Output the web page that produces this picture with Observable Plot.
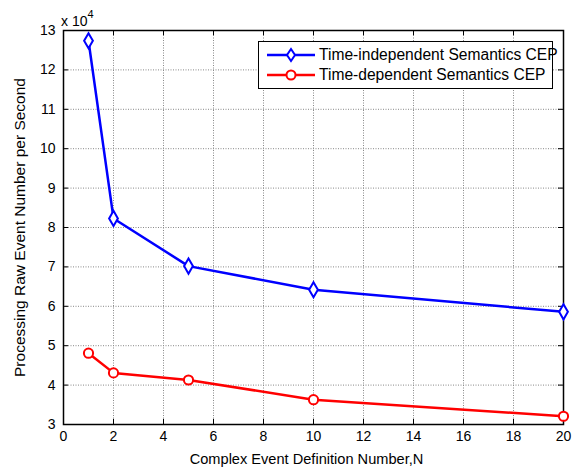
<!DOCTYPE html>
<html><head><meta charset="utf-8">
<script src="https://cdn.jsdelivr.net/npm/d3@7"></script>
<script src="https://cdn.jsdelivr.net/npm/@observablehq/plot@0.6"></script>
<style>
body{margin:0;background:#fff;font-family:"Liberation Sans",Arial,sans-serif}
#wrap{position:relative;width:576px;height:468px}
#wrap > svg{position:absolute;left:0;top:0}
g[aria-label="y-axis label"] text{font-size:15.5px}
g[aria-label="x-axis label"] text{font-size:14.6px}
.ov{position:absolute;font-size:14px;color:#000;white-space:nowrap}
#legend{left:258px;top:41px;width:293px;height:46px;border:1px solid #000;background:#fff}
.row{position:absolute;left:0;height:20px;width:100%}
.row svg{position:absolute;left:6px;top:0}
.row span{position:absolute;left:60px;top:1px;font-size:15.6px}
</style></head><body><div id="wrap"></div>
<script>
const nValues = [1, 2, 5, 10, 20];
const independentRate = [12.74, 8.23, 7.02, 6.42, 5.86];
const dependentRate = [4.81, 4.31, 4.13, 3.63, 3.21];
const seriesNames = ["Time-independent Semantics CEP", "Time-dependent Semantics CEP"];
const seriesColors = ["#0000ff", "#ff0000"];
const xTicks = [0, 2, 4, 6, 8, 10, 12, 14, 16, 18, 20];
const yTicks = [3, 4, 5, 6, 7, 8, 9, 10, 11, 12, 13];
const xLabel = "Complex Event Definition Number,N";
const yLabel = "Processing Raw Event Number per Second";

const rows = [];
nValues.forEach((n, i) => rows.push({n, v: independentRate[i], s: seriesNames[0]}));
nValues.forEach((n, i) => rows.push({n, v: dependentRate[i], s: seriesNames[1]}));
const indep = rows.filter(d => d.s === seriesNames[0]);
const dep = rows.filter(d => d.s === seriesNames[1]);

const chart = Plot.plot({
  width: 576, height: 468,
  marginLeft: 63, marginRight: 13, marginTop: 30, marginBottom: 44,
  style: {fontFamily: '"Liberation Sans", Arial, sans-serif', fontSize: "14px", background: "white", color: "black"},
  x: {domain: [0, 20], ticks: xTicks, tickSize: 0, tickPadding: 7, label: xLabel, labelAnchor: "center", labelOffset: 40, labelArrow: "none", tickFormat: d => String(d)},
  y: {domain: [3, 13], ticks: yTicks, tickSize: 0, tickPadding: 8, label: yLabel, labelAnchor: "center", labelOffset: 50, labelArrow: "none", tickFormat: d => String(d)},
  marks: [
    Plot.ruleX(xTicks, {stroke: "#888", strokeDasharray: "1,1.5", strokeWidth: 1}),
    Plot.ruleY(yTicks, {stroke: "#888", strokeDasharray: "1,1.5", strokeWidth: 1}),
    Plot.ruleX(xTicks, {y1: 3, y2: 3.13, stroke: "black"}),
    Plot.ruleX(xTicks, {y1: 13, y2: 12.87, stroke: "black"}),
    Plot.ruleY(yTicks, {x1: 0, x2: 0.2, stroke: "black"}),
    Plot.ruleY(yTicks, {x1: 20, x2: 19.8, stroke: "black"}),
    Plot.frame({stroke: "black", strokeWidth: 1.5}),
    Plot.line(indep, {x: "n", y: "v", stroke: seriesColors[0], strokeWidth: 2.5}),
    Plot.line(dep, {x: "n", y: "v", stroke: seriesColors[1], strokeWidth: 2.5}),
    Plot.dot(indep, {x: "n", y: "v", symbol: "diamond", r: 4.6, stroke: seriesColors[0], fill: "white", strokeWidth: 2}),
    Plot.dot(dep, {x: "n", y: "v", symbol: "circle", r: 4.6, stroke: seriesColors[1], fill: "white", strokeWidth: 2})
  ]
});
const xl = chart.querySelector('g[aria-label="x-axis label"]');
if (xl) xl.setAttribute("transform", ((xl.getAttribute("transform") || "") + " translate(-7,-1)").trim());
const wrap = document.getElementById("wrap");
wrap.appendChild(chart);

const exp = document.createElement("div");
exp.className = "ov";
exp.style.left = "61px"; exp.style.top = "10px";
exp.innerHTML = 'x 10<sup style="font-size:11px;position:relative;top:-2px">4</sup>';
wrap.appendChild(exp);

const legend = document.createElement("div");
legend.className = "ov"; legend.id = "legend";
const symSvg = [
  '<svg width="52" height="20"><line x1="2" y1="10" x2="50" y2="10" stroke="' + seriesColors[0] + '" stroke-width="2.5"/><path d="M26,4 L30,10 L26,16 L22,10 Z" fill="white" stroke="' + seriesColors[0] + '" stroke-width="2"/></svg>',
  '<svg width="52" height="20"><line x1="2" y1="10" x2="50" y2="10" stroke="' + seriesColors[1] + '" stroke-width="2.5"/><circle cx="26" cy="10" r="4.5" fill="white" stroke="' + seriesColors[1] + '" stroke-width="2"/></svg>'
];
seriesNames.forEach((name, i) => {
  const r = document.createElement("div");
  r.className = "row";
  r.style.top = (3 + i * 20) + "px";
  r.innerHTML = symSvg[i] + "<span>" + name + "</span>";
  legend.appendChild(r);
});
wrap.appendChild(legend);
</script>
</body></html>
